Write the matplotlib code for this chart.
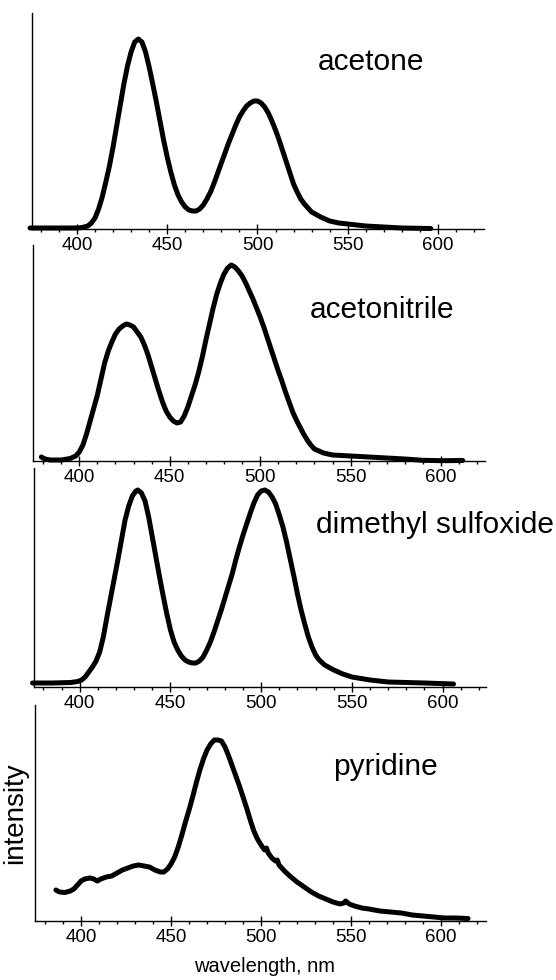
import matplotlib
matplotlib.use("Agg")
import matplotlib.pyplot as plt
from matplotlib.ticker import MultipleLocator

# spectra (wavelength in nm, intensity in arbitrary units)
acetone_wl = [374, 390, 400, 403, 406, 408, 410, 412, 414, 416, 418, 420, 422, 424, 426, 428,
              430, 432, 434, 436, 438, 440, 442, 444, 446, 448, 450, 452, 454, 456, 458, 460,
              462, 464, 466, 468, 470, 472, 474, 476, 478, 480, 482, 484, 486, 488, 490, 492,
              494, 496, 498, 500, 502, 504, 506, 508, 510, 512, 514, 516, 518, 520, 522, 524,
              526, 528, 530, 535, 540, 545, 550, 560, 570, 580, 596]
acetone_int = [1, 1, 1, 1.5, 3, 6, 11, 20, 32, 47, 63, 82, 103, 124, 145, 163,
               177, 187, 190, 187, 177, 162, 145, 127, 108, 89, 72, 57, 44, 34, 27, 22,
               19, 18, 18, 20, 24, 30, 37, 46, 56, 66, 76, 86, 95, 104, 112, 118,
               123, 126, 128, 128, 126, 122, 116, 108, 99, 89, 78, 67, 56, 45, 37, 30,
               25, 21, 17, 12, 8, 6, 5, 3, 2, 1, 0.5]

acetonitrile_wl = [379, 381, 384, 390, 395, 398, 400, 402, 404, 406, 408, 410, 412, 414, 416, 418,
                   420, 422, 424, 426, 428, 430, 432, 434, 436, 438, 440, 442, 444, 446, 448, 450,
                   452, 454, 456, 458, 460, 462, 464, 466, 468, 470, 472, 474, 476, 478, 480, 482,
                   484, 486, 488, 490, 492, 494, 496, 498, 500, 502, 504, 506, 508, 510, 512, 514,
                   516, 518, 520, 522, 524, 526, 528, 530, 535, 540, 550, 560, 570, 580, 590, 600,
                   612]
acetonitrile_int = [4, 2, 1, 1, 2.5, 5, 9, 16, 27, 40, 53, 66, 82, 98, 110, 119,
                    127, 132, 135, 137, 136, 134, 129, 124, 116, 106, 94, 82, 70, 59, 50, 44,
                    40, 38, 39, 45, 54, 65, 76, 89, 104, 121, 137, 153, 167, 178, 187, 193,
                    196, 194, 190, 185, 178, 170, 162, 153, 144, 134, 123, 112, 101, 90, 80, 69,
                    59, 49, 41, 34, 27, 21, 16, 12, 8, 6, 5, 4, 3, 2, 0.7, 0.3,
                    0.5]

dmso_wl = [374, 385, 395, 399, 401, 403, 405, 407, 409, 411, 413, 415, 417, 419, 421, 423,
           425, 427, 429, 431, 432, 434, 436, 438, 440, 442, 444, 446, 448, 450, 452, 454,
           456, 458, 460, 462, 464, 466, 468, 470, 472, 474, 476, 478, 480, 482, 484, 486,
           488, 490, 492, 494, 496, 498, 500, 502, 504, 506, 508, 510, 512, 514, 516, 518,
           520, 522, 524, 526, 528, 530, 532, 535, 540, 545, 550, 560, 570, 580, 590, 606]
dmso_int = [4, 4, 4.5, 5.5, 7, 10, 15, 20, 26, 35, 50, 70, 89, 108, 127, 147,
            167, 181, 191, 196, 197, 194, 186, 170, 150, 130, 110, 91, 73, 57, 45, 37,
            31, 27, 25, 24, 24, 26, 30, 37, 45, 55, 66, 77, 89, 101, 113, 127,
            140, 152, 163, 174, 184, 192, 196, 197, 195, 190, 183, 172, 160, 145, 128, 111,
            93, 77, 63, 50, 40, 32, 27, 22, 17, 13, 10, 7, 5, 4.5, 4, 3]

pyridine_wl = [386, 388, 391, 394, 396, 398, 400, 402, 405, 407, 409, 411, 414, 417, 420, 423,
               426, 429, 432, 435, 438, 441, 444, 446, 448, 450, 452, 454, 456, 458, 460, 462,
               464, 466, 468, 470, 472, 474, 476, 478, 480, 482, 484, 486, 488, 490, 492, 494,
               496, 498, 500, 502, 503, 504, 506, 508, 509, 510, 513, 516, 520, 524, 528, 532,
               536, 540, 544, 546, 547, 549, 552, 556, 560, 566, 572, 578, 584, 590, 596, 602,
               608, 615]
pyridine_int = [31, 29, 28.5, 30, 32, 36, 40, 42, 43, 42, 40, 42, 44, 45, 48, 51,
                53, 55, 56, 55, 54, 51, 49, 49, 52, 57, 64, 74, 86, 99, 111, 124,
                138, 151, 162, 171, 177, 181, 181, 180, 174, 165, 155, 145, 135, 124, 113, 101,
                90, 82, 76, 71, 73, 68, 63, 60, 61, 56, 50, 45, 39, 34, 29, 25,
                22, 19, 17, 18, 20, 17, 15, 13, 12, 10, 9, 8, 6, 5, 4, 3,
                3, 2.5]

solvents = ["acetone", "acetonitrile", "dimethyl sulfoxide", "pyridine"]
wavelengths = [acetone_wl, acetonitrile_wl, dmso_wl, pyridine_wl]
intensities = [acetone_int, acetonitrile_int, dmso_int, pyridine_int]

W, H = 556, 980
plain = ["Liberation Sans", "DejaVu Sans"]

# panel boxes in pixels: left, right, top, bottom, x-limits
boxes = [
    (32, 484, 13, 229, (375.1, 625.5)),
    (33, 485, 245, 461, (374.4, 624.3)),
    (34, 486, 468, 687, (374.8, 623.9)),
    (35, 486, 705, 921, (374.4, 625.0)),
]
# label positions (left x, center y) in pixels
label_pos = [(318, 62), (310, 310), (316, 525), (333, 767)]

fig = plt.figure(figsize=(W / 100, H / 100), dpi=100)

for i, (l, r, t, b, xl) in enumerate(boxes):
    ax = fig.add_axes([l / W, 1 - b / H, (r - l) / W, (b - t) / H])
    ax.plot(wavelengths[i], intensities[i], color="black", lw=3.6,
            solid_joinstyle="round", solid_capstyle="round", clip_on=False)
    ax.set_xlim(*xl)
    ax.set_ylim(0, b - t)
    for s in ["top", "right"]:
        ax.spines[s].set_visible(False)
    ax.spines["left"].set_linewidth(1.0)
    ax.spines["bottom"].set_linewidth(1.0)
    ax.set_yticks([])
    ax.xaxis.set_major_locator(MultipleLocator(50))
    ax.xaxis.set_minor_locator(MultipleLocator(10))
    ax.tick_params(axis="x", which="major", direction="inout", length=7, width=1, pad=2.5)
    ax.tick_params(axis="x", which="minor", direction="out", length=2.5, width=1)
    ax.set_xticks([400, 450, 500, 550, 600])
    for lab in ax.get_xticklabels():
        lab.set_family(plain)
        lab.set_fontsize(13.5)
    ax.patch.set_visible(False)

    x0, y0 = label_pos[i]
    fig.text(x0 / W, 1 - y0 / H, solvents[i], family=plain, fontsize=21.5,
             ha="left", va="center")

fig.text(15 / W, 1 - 813 / H, "intensity", family=plain, fontsize=20,
         rotation=90, ha="center", va="center")
fig.text(265 / W, 1 - 966 / H, "wavelength, nm", family=plain, fontsize=14.5,
         ha="center", va="center")

fig.savefig("out.png", dpi=100)
